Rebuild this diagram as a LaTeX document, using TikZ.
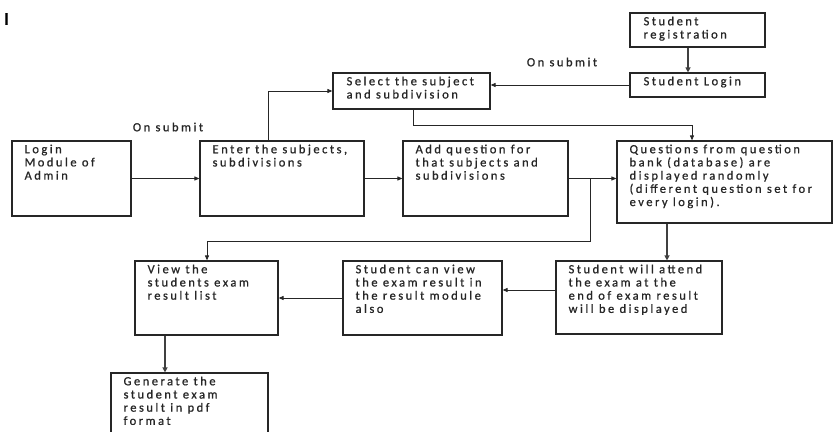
\documentclass[tikz,border=0pt]{standalone}
\usepackage{fontspec}
\setmainfont{Carlito}[LetterSpace=20.0, FakeBold=0.8]
\usetikzlibrary{arrows.meta}
\tikzset{
  box/.style={draw=black!85, line width=1.2pt, inner sep=0pt},
  txt/.style={anchor=north west, inner sep=0pt, align=left, text=black!85,
              font=\fontsize{12.5}{13.2}\selectfont},
  arr/.style={draw=black!85, line width=0.9pt, -{Triangle[length=5pt,width=4pt]}},
  thickarr/.style={draw=black!75, line width=1.8pt, -{Triangle[length=5pt,width=5pt]}},
}
\begin{document}
\begin{tikzpicture}[x=1pt,y=-1pt]
\useasboundingbox (0,0) rectangle (835,431);
\clip (0,0) rectangle (835,431);
\fill[white] (0,0) rectangle (835,431);

% boxes
\node[box, minimum width=135pt, minimum height=34pt] (reg) at (697.5,30) {};
\node[box, minimum width=135pt, minimum height=24pt] (login) at (697.5,85) {};
\node[box, minimum width=157pt, minimum height=36pt] (select) at (411.5,91) {};
\node[box, minimum width=119pt, minimum height=75pt] (admin) at (71.5,178.5) {};
\node[box, minimum width=164pt, minimum height=75pt] (enter) at (282,178.5) {};
\node[box, minimum width=165pt, minimum height=75pt] (add) at (485.5,178.5) {};
\node[box, minimum width=215pt, minimum height=82pt] (ques) at (724.5,182) {};
\node[box, minimum width=143pt, minimum height=74pt] (view) at (206.5,298) {};
\node[box, minimum width=159pt, minimum height=74pt] (canview) at (422.5,298) {};
\node[box, minimum width=166pt, minimum height=73pt] (attend) at (639,297.5) {};
\node[box, minimum width=157pt, minimum height=72pt] (gen) at (189.5,409) {};

% texts
\node[txt] (tReg) at ([xshift=14pt,yshift=-4pt]reg.north west) {Student\\registration};
\node[txt] (tLogin) at ([xshift=14pt,yshift=-4pt]login.north west) {Student Login};
\node[txt] (tSel) at ([xshift=14pt,yshift=-4pt]select.north west) {Select the subject\\and subdivision};
\node[txt] (tAdm) at ([xshift=13pt,yshift=-4pt]admin.north west) {Login\\Module of\\Admin};
\node[txt] (tEnt) at ([xshift=13pt,yshift=-4pt]enter.north west) {Enter the subjects,\\subdivisions};
\node[txt] (tAdd) at ([xshift=13pt,yshift=-4pt]add.north west) {Add question for\\that subjects and\\subdivisions};
\node[txt] (tQue) at ([xshift=13pt,yshift=-4pt]ques.north west) {Questions from question\\bank (database) are\\displayed randomly\\(different question set for\\every login).};
\node[txt] (tView) at ([xshift=13pt,yshift=-4pt]view.north west) {View the\\students exam\\result list};
\node[txt] (tCan) at ([xshift=13pt,yshift=-4pt]canview.north west) {Student can view\\the exam result in\\the result module\\also};
\node[txt] (tAtt) at ([xshift=13pt,yshift=-4pt]attend.north west) {Student will attend\\the exam at the\\end of exam result\\will be displayed};
\node[txt] (tGen) at ([xshift=13pt,yshift=-4pt]gen.north west) {Generate the\\student exam\\result in pdf\\format};

\node[anchor=center, inner sep=0pt, text=black!85, font=\fontsize{12.5}{13}\selectfont] (os1) at (168,127) {On submit};
\node[anchor=center, inner sep=0pt, text=black!85, font=\fontsize{12.5}{13}\selectfont] (os2) at (562,62) {On submit};
\node[anchor=center, inner sep=0pt, font=\fontsize{18}{18}\selectfont\bfseries] (mark) at (6.5,19) {I};

% helper coordinates
\coordinate (rx) at (688,0);
\coordinate (ex) at (268,0);
\coordinate (sx) at (413,0);
\coordinate (qx) at (692,0);
\coordinate (bx) at (590,0);
\coordinate (bl) at (590,241);
\coordinate (vx) at (207,0);
\coordinate (dx) at (667,0);
\coordinate (gx) at (165,0);
\coordinate (ay) at (0,290);

% connectors
\draw[thickarr] (reg.south -| rx) -- (login.north -| rx);
\draw[arr] (login.west) -- (login.west -| select.east);
\draw[arr] (enter.north -| ex) |- (select.west);
\draw[arr] (select.south -| sx) -- ++(0,16) -| (ques.north -| qx);
\draw[arr] (admin.east) -- (enter.west);
\draw[arr] (enter.east) -- (add.west);
\draw[arr] (add.east) -- (add.east -| ques.west);
\coordinate (br) at (add.east -| bx);
\draw[arr] (br) -- (bl) -| (view.north -| vx);
\draw[thickarr] (ques.south -| dx) -- (attend.north -| dx);
\draw[arr] (attend.west |- ay) -- (canview.east |- ay);
\draw[arr] (canview.west) -- (view.east);
\draw[thickarr] (view.south -| gx) -- (gen.north -| gx);
\end{tikzpicture}
\end{document}
